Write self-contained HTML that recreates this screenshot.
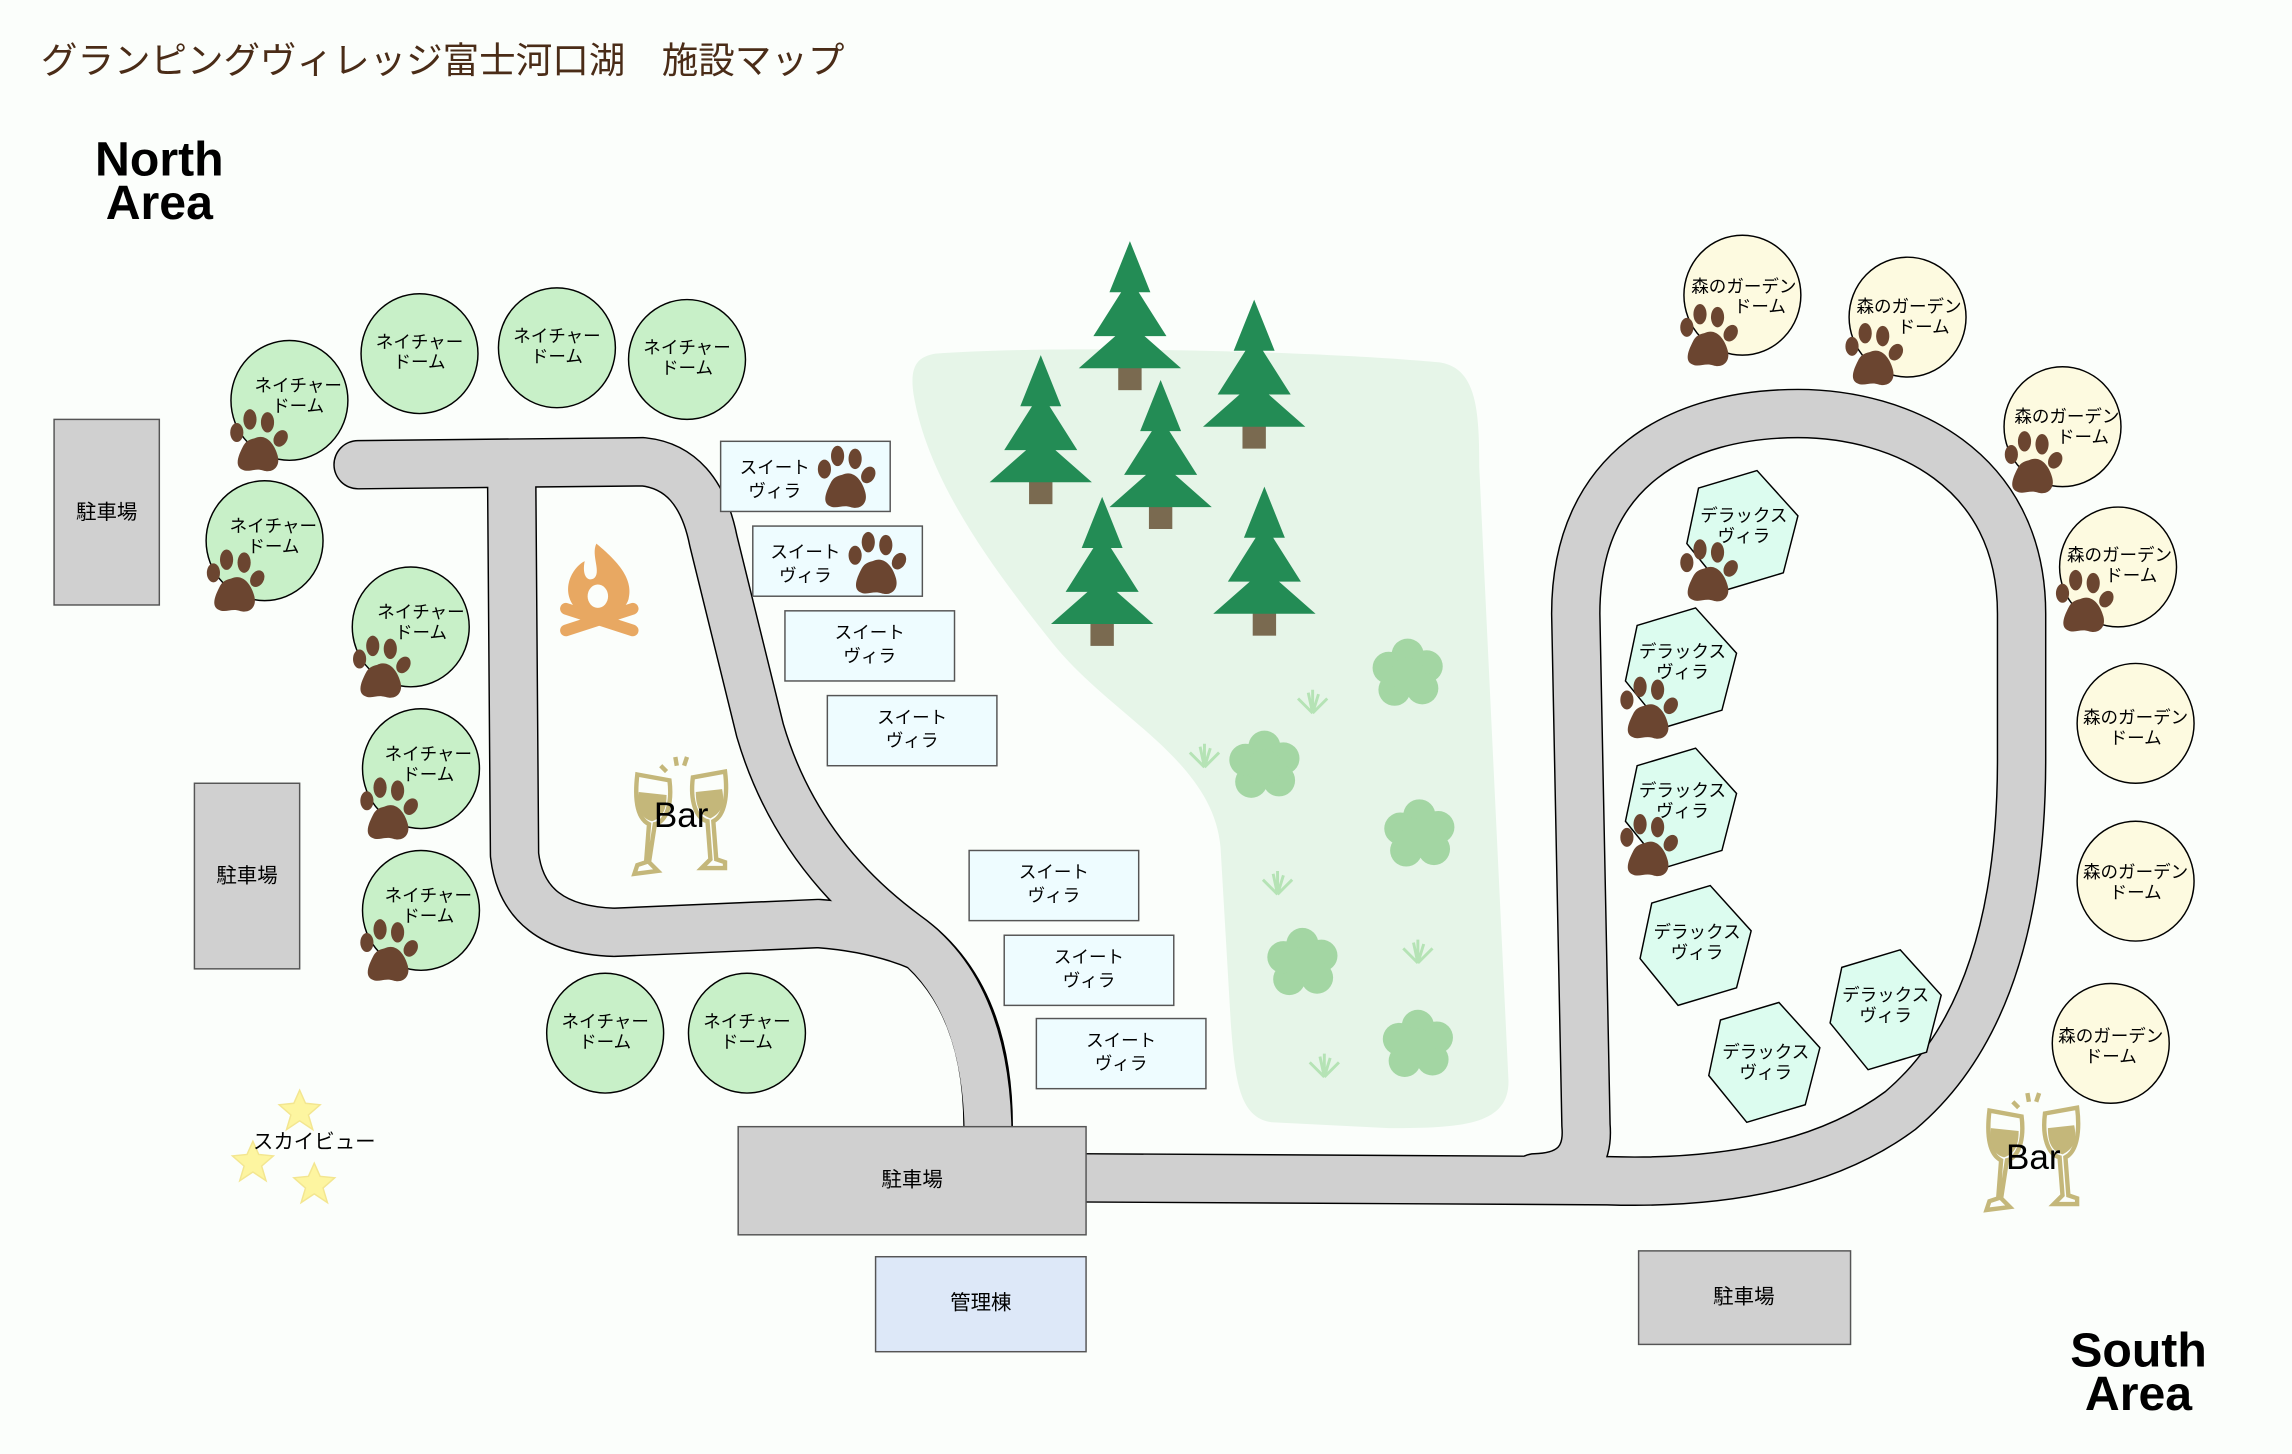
<!DOCTYPE html>
<html><head><meta charset="utf-8"><style>
html,body{margin:0;padding:0;background:#fbfefb;}
svg{display:block;}
text{font-family:"Liberation Sans","Noto Sans CJK JP",sans-serif;}
</style></head><body>
<svg width="2292" height="1454" viewBox="0 0 1568 995" preserveAspectRatio="none" xmlns="http://www.w3.org/2000/svg">
<defs>
<g id="paw" fill="#6b4530">
<path d="M-4,-2 C4,-6 10,2 12,10 C14,18 8,22 2,20 C-4,18 -8,22 -13,19 C-18,16 -14,8 -12,4 C-10,0 -8,-1 -4,-2Z"/>
<ellipse cx="-16" cy="-6" rx="4.5" ry="6.5"/>
<ellipse cx="-7" cy="-15" rx="4.5" ry="7"/>
<ellipse cx="5" cy="-13" rx="4.5" ry="7"/>
<ellipse cx="14" cy="-2" rx="4.5" ry="6" transform="rotate(30 14 -2)"/>
</g>
<g id="tree">
<rect x="-8" y="35" width="16" height="22" fill="#7a6a50"/>
<polygon points="0,-45 -14,-10 -6,-10 -25,20 -10,20 -35,42 35,42 10,20 25,20 6,-10 14,-10" fill="#238c55"/>
</g>
<g id="bush" fill="#a3d6a3">
<circle cx="0" cy="-12" r="11"/><circle cx="13" cy="-4" r="11"/><circle cx="10" cy="11" r="11"/><circle cx="-9" cy="12" r="11"/><circle cx="-13" cy="-3" r="11"/><circle cx="0" cy="2" r="12"/>
</g>
<g id="grass" fill="none" stroke="#b5e3b5" stroke-width="2">
<path d="M0,8 L-3,-6 M0,8 L0,-8 M0,8 L4,-5 M0,8 L-10,-2 M0,8 L10,-2"/>
</g>
<g id="star"><polygon points="0,-14 4,-5 14,-4 6,3 9,13 0,7 -9,13 -6,3 -14,-4 -4,-5" fill="#fdf5a0" stroke="#f3e690" stroke-width="1"/></g>
<g id="bar" fill="none" stroke="#c4b77a" stroke-width="3">
<path d="M-30,-32 L-8,-28 C-6,-12 -10,0 -18,2 L-22,28 L-16,34 L-32,36 L-30,30 L-24,28 L-22,2 C-30,-2 -32,-15 -30,-32Z"/>
<path d="M30,-34 L8,-30 C6,-14 10,-2 18,0 L20,26 L14,32 L30,32 L30,28 L24,26 L22,0 C30,-4 32,-18 30,-34Z"/>
<path d="M-14,-38 L-10,-34 M-4,-44 L-3,-38 M4,-44 L2,-38"/>
<path d="M-29,-20 L-10,-18 C-10,-6 -14,-2 -20,0 C-28,-2 -30,-10 -29,-20Z M28,-22 L10,-20 C10,-8 14,-4 20,-2 C28,-6 30,-12 28,-22Z" fill="#c4b77a" stroke="none"/>
</g>
</defs>

<text x="28" y="50" font-size="25" fill="#4a2c17">グランピングヴィレッジ富士河口湖　施設マップ</text>
<text x="109" y="120" font-size="33" font-weight="bold" text-anchor="middle" fill="#000">North</text>
<text x="109" y="150" font-size="33" font-weight="bold" text-anchor="middle" fill="#000">Area</text>
<text x="1463" y="935" font-size="33" font-weight="bold" text-anchor="middle" fill="#000">South</text>
<text x="1463" y="965" font-size="33" font-weight="bold" text-anchor="middle" fill="#000">Area</text>

<path d="M640,242 C720,236 900,240 985,248 C1010,252 1012,280 1012,320 L1032,740 C1032,770 1000,772 950,772 L870,768 C848,765 845,740 842,700 L835,580 C830,520 760,490 720,440 C680,390 635,330 625,270 C622,250 628,244 640,242Z" fill="#e6f5e8"/>

<g fill="none" stroke-linecap="round" stroke-linejoin="round">
<path d="M245,318 L440,316 Q478,320 488,370 L520,500 Q545,585 620,640 Q676,680 676,771" stroke="#000" stroke-width="34"/>
<path d="M350,320 L352,585 Q358,636 420,638 L560,632 Q600,635 630,648" stroke="#000" stroke-width="34"/>
<path d="M245,318 L440,316 Q478,320 488,370 L520,500 Q545,585 620,640 Q676,680 676,780" stroke="#d0d0d0" stroke-width="32"/>
<path d="M350,320 L352,585 Q358,636 420,638 L560,632 Q600,635 630,648" stroke="#d0d0d0" stroke-width="32"/>
<path d="M735,806 L1100,808 Q1230,812 1300,760 Q1383,690 1383,520 L1383,420 C1383,320 1300,283 1230,283 C1150,283 1078,320 1078,420 L1085,770 Q1088,805 1050,806" stroke="#000" stroke-width="34"/>
<path d="M735,806 L1100,808 Q1230,812 1300,760 Q1383,690 1383,520 L1383,420 C1383,320 1300,283 1230,283 C1150,283 1078,320 1078,420 L1085,770 Q1088,805 1050,806" stroke="#d0d0d0" stroke-width="32"/>
</g>

<use href="#tree" x="773" y="210"/>
<use href="#tree" x="712" y="288"/>
<use href="#tree" x="858" y="250"/>
<use href="#tree" x="794" y="305"/>
<use href="#tree" x="754" y="385"/>
<use href="#tree" x="865" y="378"/>
<use href="#bush" x="963" y="460"/>
<use href="#bush" x="865" y="523"/>
<use href="#bush" x="971" y="570"/>
<use href="#bush" x="891" y="658"/>
<use href="#bush" x="970" y="714"/>
<use href="#grass" x="898" y="480"/>
<use href="#grass" x="824" y="517"/>
<use href="#grass" x="874" y="604"/>
<use href="#grass" x="970" y="651"/>
<use href="#grass" x="906" y="729"/>

<g fill="#d0d0d0" stroke="#555" stroke-width="1">
<rect x="37" y="287" width="72" height="127"/>
<rect x="133" y="536" width="72" height="127"/>
<rect x="505" y="771" width="238" height="74"/>
<rect x="1121" y="856" width="145" height="64"/>
</g>
<rect x="599" y="860" width="144" height="65" fill="#dde8f8" stroke="#555" stroke-width="1"/>
<g font-size="14" fill="#000" text-anchor="middle">
<text x="73" y="355">駐車場</text>
<text x="169" y="604">駐車場</text>
<text x="624" y="812">駐車場</text>
<text x="1193" y="892">駐車場</text>
<text x="671" y="896">管理棟</text>
</g>

<g fill="#c8f0c8" stroke="#000" stroke-width="1">
<ellipse cx="198" cy="274" rx="40" ry="41"/>
<ellipse cx="287" cy="242" rx="40" ry="41"/>
<ellipse cx="381" cy="238" rx="40" ry="41"/>
<ellipse cx="470" cy="246" rx="40" ry="41"/>
<ellipse cx="181" cy="370" rx="40" ry="41"/>
<ellipse cx="281" cy="429" rx="40" ry="41"/>
<ellipse cx="288" cy="526" rx="40" ry="41"/>
<ellipse cx="288" cy="623" rx="40" ry="41"/>
<ellipse cx="414" cy="707" rx="40" ry="41"/>
<ellipse cx="511" cy="707" rx="40" ry="41"/>
</g>
<g font-size="12" fill="#000" text-anchor="middle">
<text x="204" y="268">ネイチャー</text><text x="204" y="282">ドーム</text>
<text x="287" y="238">ネイチャー</text><text x="287" y="252">ドーム</text>
<text x="381" y="234">ネイチャー</text><text x="381" y="248">ドーム</text>
<text x="470" y="242">ネイチャー</text><text x="470" y="256">ドーム</text>
<text x="187" y="364">ネイチャー</text><text x="187" y="378">ドーム</text>
<text x="288" y="423">ネイチャー</text><text x="288" y="437">ドーム</text>
<text x="293" y="520">ネイチャー</text><text x="293" y="534">ドーム</text>
<text x="293" y="617">ネイチャー</text><text x="293" y="631">ドーム</text>
<text x="414" y="703">ネイチャー</text><text x="414" y="717">ドーム</text>
<text x="511" y="703">ネイチャー</text><text x="511" y="717">ドーム</text>
</g>

<g fill="#fdfae0" stroke="#000" stroke-width="1">
<ellipse cx="1192" cy="202" rx="40" ry="41"/>
<ellipse cx="1305" cy="217" rx="40" ry="41"/>
<ellipse cx="1411" cy="292" rx="40" ry="41"/>
<ellipse cx="1449" cy="388" rx="40" ry="41"/>
<ellipse cx="1461" cy="495" rx="40" ry="41"/>
<ellipse cx="1461" cy="603" rx="40" ry="41"/>
<ellipse cx="1444" cy="714" rx="40" ry="41"/>
</g>
<g font-size="12" fill="#000" text-anchor="middle">
<text x="1193" y="200">森のガーデン</text><text x="1204" y="214">ドーム</text>
<text x="1306" y="214">森のガーデン</text><text x="1316" y="228">ドーム</text>
<text x="1414" y="289">森のガーデン</text><text x="1425" y="303">ドーム</text>
<text x="1450" y="384">森のガーデン</text><text x="1458" y="398">ドーム</text>
<text x="1461" y="495">森のガーデン</text><text x="1461" y="509">ドーム</text>
<text x="1461" y="601">森のガーデン</text><text x="1461" y="615">ドーム</text>
<text x="1444" y="713">森のガーデン</text><text x="1444" y="727">ドーム</text>
</g>

<g fill="#eefcff" stroke="#555" stroke-width="1">
<rect x="493" y="302" width="116" height="48"/>
<rect x="515" y="360" width="116" height="48"/>
<rect x="537" y="418" width="116" height="48"/>
<rect x="566" y="476" width="116" height="48"/>
<rect x="663" y="582" width="116" height="48"/>
<rect x="687" y="640" width="116" height="48"/>
<rect x="709" y="697" width="116" height="48"/>
</g>
<g font-size="12" fill="#000" text-anchor="middle">
<text x="530" y="324">スイート</text><text x="530" y="340">ヴィラ</text>
<text x="551" y="382">スイート</text><text x="551" y="398">ヴィラ</text>
<text x="595" y="437">スイート</text><text x="595" y="453">ヴィラ</text>
<text x="624" y="495">スイート</text><text x="624" y="511">ヴィラ</text>
<text x="721" y="601">スイート</text><text x="721" y="617">ヴィラ</text>
<text x="745" y="659">スイート</text><text x="745" y="675">ヴィラ</text>
<text x="767" y="716">スイート</text><text x="767" y="732">ヴィラ</text>
</g>

<g fill="#dcfcef" stroke="#000" stroke-width="1">
<polygon transform="translate(1192,362)" points="-30,-28 10,-40 38,-9 28,30 -12,42 -38,10"/>
<polygon transform="translate(1150,456)" points="-30,-28 10,-40 38,-9 28,30 -12,42 -38,10"/>
<polygon transform="translate(1150,552)" points="-30,-28 10,-40 38,-9 28,30 -12,42 -38,10"/>
<polygon transform="translate(1160,646)" points="-30,-28 10,-40 38,-9 28,30 -12,42 -38,10"/>
<polygon transform="translate(1290,690)" points="-30,-28 10,-40 38,-9 28,30 -12,42 -38,10"/>
<polygon transform="translate(1207,726)" points="-30,-28 10,-40 38,-9 28,30 -12,42 -38,10"/>
</g>
<g font-size="12" fill="#000" text-anchor="middle">
<text x="1193" y="357">デラックス</text><text x="1193" y="371">ヴィラ</text>
<text x="1151" y="450">デラックス</text><text x="1151" y="464">ヴィラ</text>
<text x="1151" y="545">デラックス</text><text x="1151" y="559">ヴィラ</text>
<text x="1161" y="642">デラックス</text><text x="1161" y="656">ヴィラ</text>
<text x="1290" y="685">デラックス</text><text x="1290" y="699">ヴィラ</text>
<text x="1208" y="724">デラックス</text><text x="1208" y="738">ヴィラ</text>
</g>

<use href="#paw" x="178" y="302"/>
<use href="#paw" x="162" y="398"/>
<use href="#paw" x="262" y="457"/>
<use href="#paw" x="267" y="554"/>
<use href="#paw" x="267" y="651"/>
<use href="#paw" x="580" y="327"/>
<use href="#paw" x="601" y="386"/>
<use href="#paw" x="1170" y="230"/>
<use href="#paw" x="1283" y="243"/>
<use href="#paw" x="1392" y="317"/>
<use href="#paw" x="1427" y="412"/>
<use href="#paw" x="1170" y="391"/>
<use href="#paw" x="1129" y="485"/>
<use href="#paw" x="1129" y="579"/>

<g fill="#e8a862">
<path d="M408,372 C420,382 434,395 430,410 C426,424 400,426 392,414 C384,402 392,388 400,384 C398,394 402,398 406,396 C412,392 404,380 408,372Z"/>
<ellipse cx="409" cy="408" rx="7" ry="8" fill="#fbfefb"/>
<rect x="382" y="420" width="56" height="8" rx="4" transform="rotate(18 410 424)"/>
<rect x="382" y="420" width="56" height="8" rx="4" transform="rotate(-18 410 424)"/>
</g>

<use href="#bar" x="466" y="562"/>
<use href="#bar" x="1391" y="792"/>
<text x="466" y="566" font-size="24" text-anchor="middle" fill="#000">Bar</text>
<text x="1391" y="800" font-size="24" text-anchor="middle" fill="#000">Bar</text>

<use href="#star" x="205" y="760"/>
<use href="#star" x="173" y="795"/>
<use href="#star" x="215" y="810"/>
<text x="215" y="786" font-size="14" text-anchor="middle" fill="#000">スカイビュー</text>
</svg>
</body></html>
